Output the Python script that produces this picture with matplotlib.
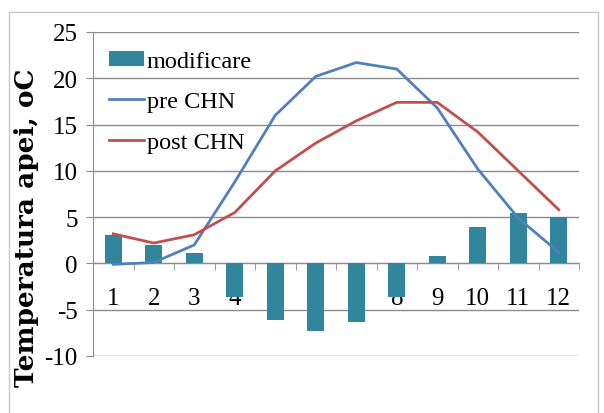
import numpy as np
import matplotlib
matplotlib.use("Agg")
import matplotlib.pyplot as plt
from matplotlib.patches import Rectangle

# data
months = [1, 2, 3, 4, 5, 6, 7, 8, 9, 10, 11, 12]
month_labels = [str(m) for m in months]
modificare = [3.1, 2.0, 1.1, -3.6, -6.1, -7.3, -6.3, -3.6, 0.8, 3.9, 5.5, 5.0]
pre_chn = [-0.1, 0.1, 2.0, 8.8, 16.0, 20.2, 21.7, 21.0, 16.8, 10.2, 4.9, 1.2]
post_chn = [3.2, 2.2, 3.1, 5.5, 10.0, 13.0, 15.4, 17.4, 17.4, 14.2, 10.0, 5.8]
y_ticks = [-10, -5, 0, 5, 10, 15, 20, 25]

plt.rcParams['font.family'] = ['Liberation Serif', 'DejaVu Serif']
plt.rcParams['axes.unicode_minus'] = False

W, H = 604, 414
fig = plt.figure(figsize=(W / 100, H / 100), dpi=100)
ax = fig.add_axes([93 / W, 1 - 357 / H, (579 - 93) / W, (357 - 33) / H])

# outer chart border
fig.patches.append(Rectangle((9 / W, -0.05), (598 - 9) / W, 1.05 - 13 / H,
                             transform=fig.transFigure, fill=False,
                             edgecolor='#c8c8c8', linewidth=1.0))

x = np.arange(len(months))
bars = ax.bar(x, modificare, width=0.42, color='#31859c', label='modificare', zorder=3)
l1, = ax.plot(x, pre_chn, color='#4f81bd', lw=2.0, label='pre CHN', zorder=4)
l2, = ax.plot(x, post_chn, color='#c0504d', lw=2.0, label='post CHN', zorder=4)

ax.set_xlim(-0.5, len(months) - 0.5)
ax.set_ylim(-10, 25)
ax.set_yticks(y_ticks)
ax.grid(axis='y', color='#8c8c8c', lw=1.0, zorder=0)
ax.set_axisbelow(True)

for s in ['top', 'right']:
    ax.spines[s].set_visible(False)
ax.spines['bottom'].set_position(('data', 0))
ax.spines['bottom'].set_color('#8c8c8c')
ax.spines['left'].set_color('#8c8c8c')
ax.spines['bottom'].set_zorder(2)

ax.set_xticks(x)
ax.set_xticklabels(month_labels)
ax.set_xticks(np.arange(-0.5, len(months)), minor=True)
ax.tick_params(axis='x', which='major', length=0, pad=17, labelsize=18)
ax.tick_params(axis='x', which='minor', length=5, direction='out', color='#8c8c8c')
ax.tick_params(axis='y', length=5, color='#8c8c8c', pad=6, labelsize=18)

fig.text(27 / W, 1 - 228 / H, 'Temperatura apei, oC', rotation=90,
         ha='center', va='center', fontsize=19, fontweight='bold',
         family='DejaVu Serif')

ax.legend([bars, l1, l2], ['modificare', 'pre CHN', 'post CHN'],
          loc='upper left', bbox_to_anchor=(109 / W, 1 - 52 / H),
          bbox_transform=fig.transFigure, frameon=False, fontsize=17.5,
          handlelength=1.45, handleheight=0.55, handletextpad=0.1,
          labelspacing=0.8, borderpad=0, borderaxespad=0)

fig.savefig('out.png', dpi=100)
